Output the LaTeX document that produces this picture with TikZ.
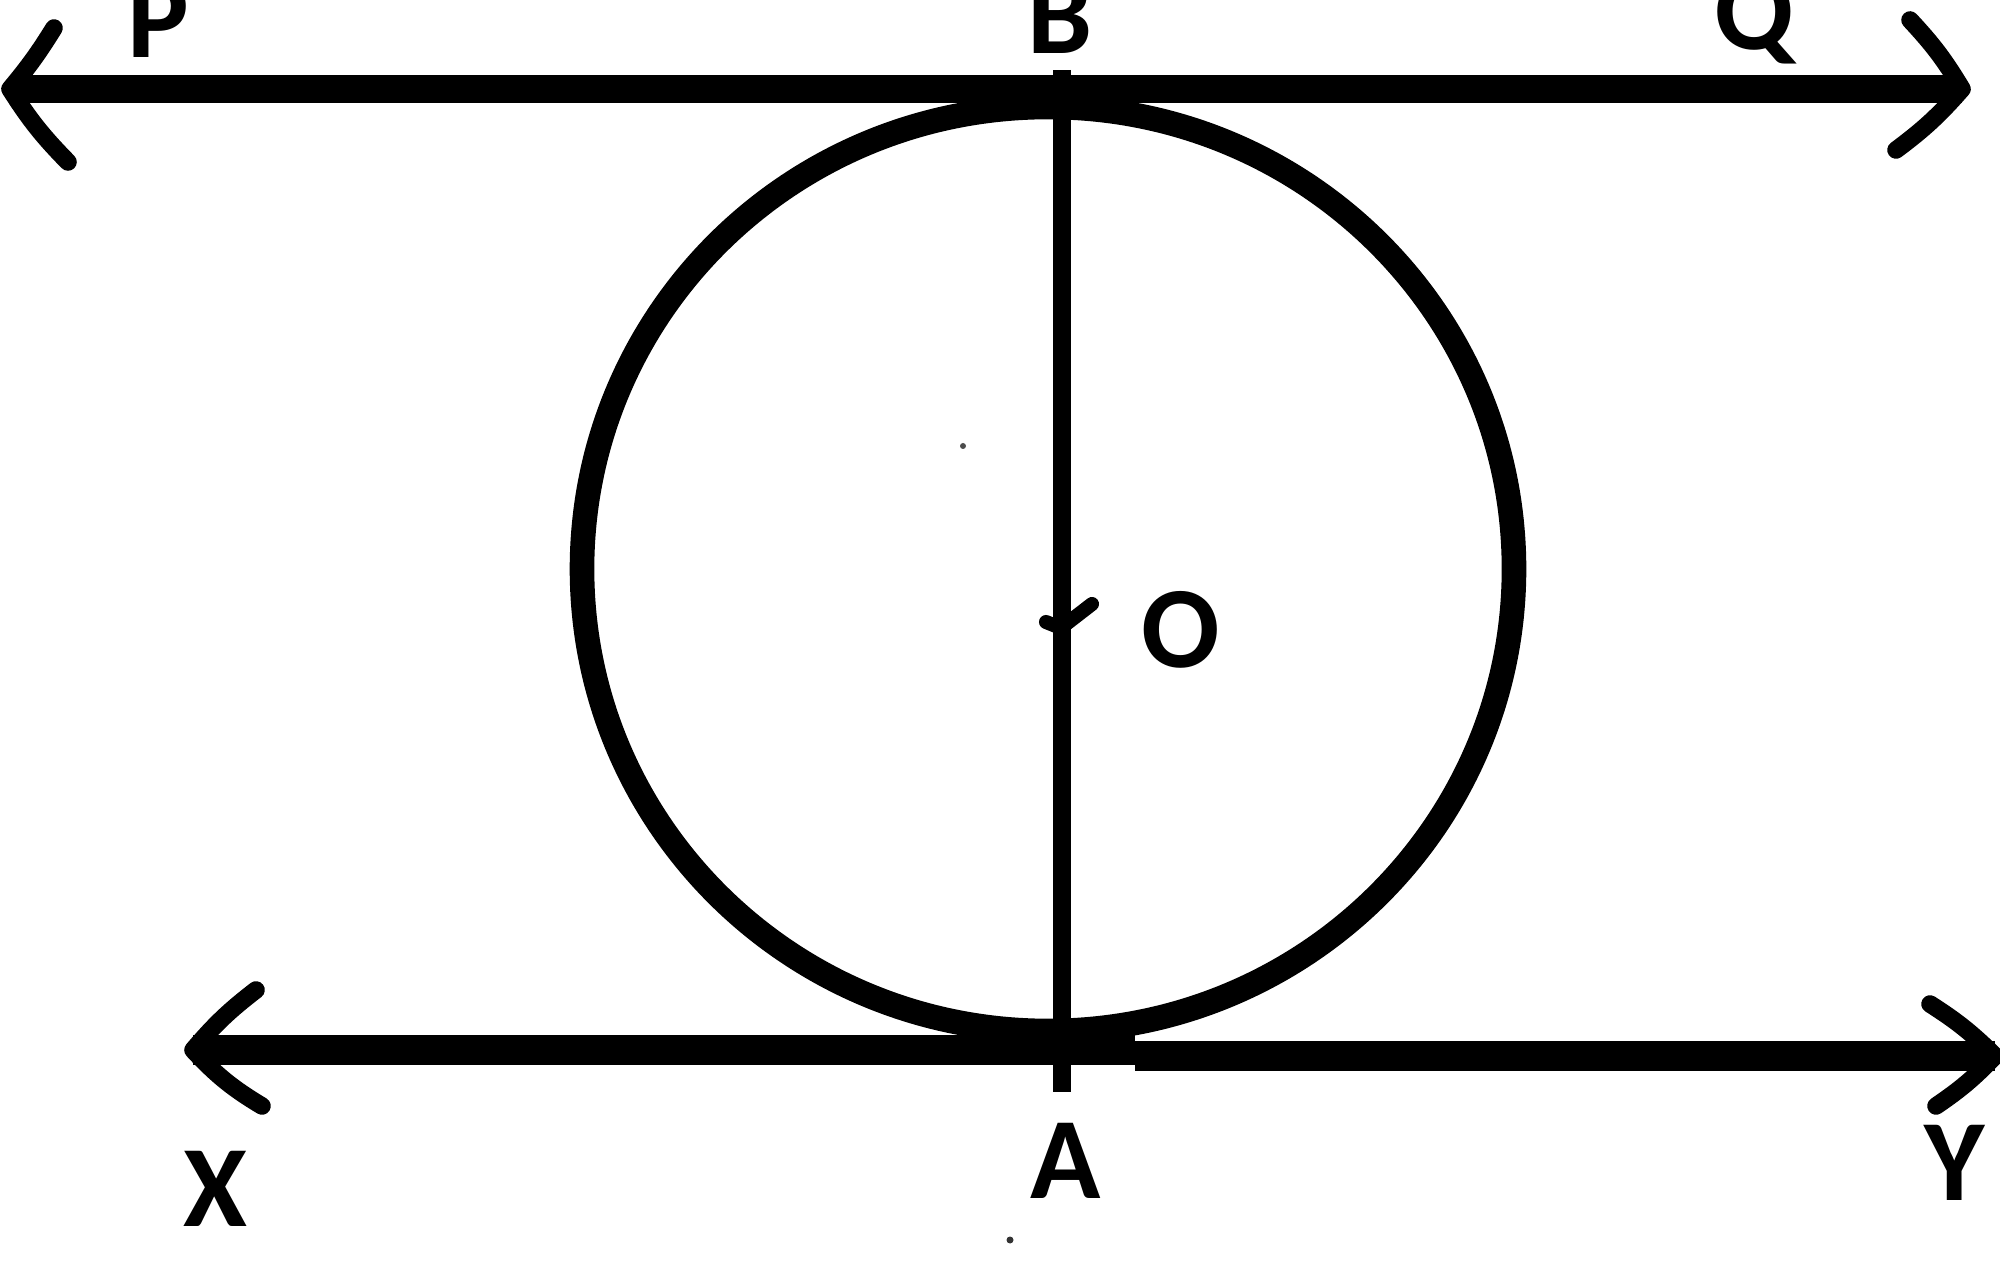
\documentclass[tikz,border=0pt]{standalone}
\usepackage{fontspec}
\setmainfont{Carlito}
\begin{document}
\begin{tikzpicture}[x=0.01cm,y=-0.01cm,
  lbl/.style={anchor=base,inner sep=0pt,font=\fontsize{33}{33}\selectfont\bfseries},
  barb/.style={line width=5pt,line cap=round,line join=round},
  ]
\clip (0,0) rectangle (2000,1283);
\useasboundingbox (0,0) rectangle (2000,1283);
% coordinates
\coordinate (Ptip) at (10,89);
\coordinate (Qtip) at (1962,89);
\coordinate (Xtip) at (193,1050);
\coordinate (Ytip) at (1995,1056);
\coordinate (Btop) at (1062,70);
\coordinate (Abot) at (1062,1092);
\coordinate (Ocen) at (1048,569);
\coordinate (step) at (1135,1050);
\coordinate (stepr) at (1135,1056);
% circle
\draw[line width=7pt] (Ocen) ellipse [x radius=466, y radius=462];
% top tangent
\draw[line width=8pt] (Ptip) -- (Qtip);
\draw[barb] (54,28) to[bend left=4] (Ptip) to[bend right=6] (68,162);
\draw[barb] (1910,20) to[bend left=6] (Qtip) to[bend left=6] (1896,150);
% bottom tangent
\draw[line width=8.5pt] (Xtip) -- (step);
\draw[line width=8.5pt] (stepr) -- (Ytip);
\draw[barb] (256,990) to[bend right=6] (Xtip) to[bend right=8] (262,1106);
\draw[barb] (1930,1004) to[bend left=6] (Ytip) to[bend left=6] (1936,1106);
% diameter
\draw[line width=5.2pt] (Btop) -- (Abot);
% tick mark at O
\draw[barb,line width=4pt] (1046,622) -- (1061,628) -- (1092,604);
% stray dots
\fill[black!70] (963,446) circle (3);
\fill[black!80] (1010,1240) circle (3.5);
% labels
\node[lbl] (P) at (158,58) {P};
\node[lbl] (B) at (1060,54) {B};
\node[lbl] (Q) at (1754,50) {Q};
\node[lbl] (O) at (1181,668) {O};
\node[lbl] (X) at (215,1226) {X};
\node[lbl] (A) at (1066,1198) {A};
\node[lbl] (Y) at (1955,1200) {Y};
\end{tikzpicture}
\end{document}
